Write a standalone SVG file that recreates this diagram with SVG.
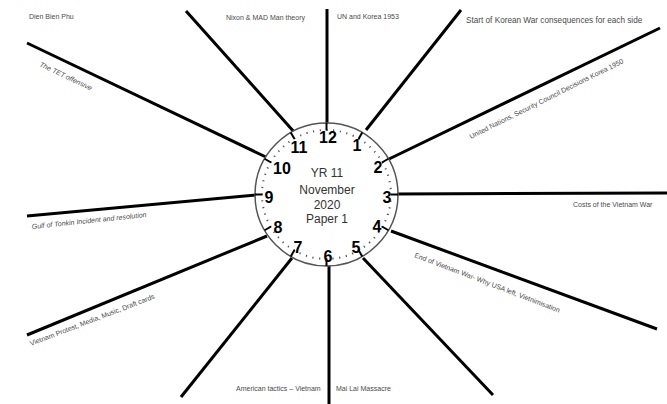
<svg xmlns="http://www.w3.org/2000/svg" xmlns:xlink="http://www.w3.org/1999/xlink" width="667" height="404" viewBox="0 0 667 404">
<style>
.spoke{stroke:#000;stroke-width:3;stroke-linecap:butt;fill:none}
.lbl{font-family:"Liberation Sans",Arial,sans-serif;font-size:7px;fill:#4a4a4a}
.it{font-style:italic}
.num{font-family:"Liberation Sans",Arial,sans-serif;font-size:16px;font-weight:bold;fill:#000;text-anchor:middle}
.ctr{font-family:"Liberation Sans",Arial,sans-serif;font-size:12px;fill:#333;text-anchor:middle}
</style>
<defs>
<line id="htick" x1="0" y1="-71.5" x2="0" y2="-64" stroke="#000" stroke-width="2"/>
</defs>
<rect width="667" height="404" fill="#fff"/>
<g id="connectors">
<line class="spoke" x1="327" y1="9" x2="327" y2="128"/>
<line class="spoke" x1="461" y1="10" x2="366" y2="130"/>
<line class="spoke" x1="660" y1="28" x2="389" y2="159"/>
<line class="spoke" x1="667" y1="193" x2="396" y2="194"/>
<line class="spoke" x1="657" y1="329" x2="391" y2="231"/>
<line class="spoke" x1="493" y1="395" x2="363" y2="258"/>
<line class="spoke" x1="329" y1="404" x2="329" y2="264"/>
<line class="spoke" x1="181" y1="397" x2="292" y2="258"/>
<line class="spoke" x1="27" y1="335" x2="267" y2="236"/>
<line class="spoke" x1="27" y1="216" x2="256" y2="195"/>
<line class="spoke" x1="27" y1="43" x2="268" y2="158"/>
<line class="spoke" x1="186" y1="11" x2="295" y2="133"/>
</g>
<g id="clock">
<circle cx="326.5" cy="194.5" r="71.5" fill="#fff" stroke="#555" stroke-width="1.5"/>
<circle cx="326.5" cy="194.5" r="64.5" fill="none" stroke="#555" stroke-width="2" stroke-dasharray="1.2 5.554" stroke-dashoffset="0.6"/>
<g transform="translate(326.5,194.5)">
<use xlink:href="#htick"/>
<use xlink:href="#htick" transform="rotate(30)"/>
<use xlink:href="#htick" transform="rotate(60)"/>
<use xlink:href="#htick" transform="rotate(90)"/>
<use xlink:href="#htick" transform="rotate(120)"/>
<use xlink:href="#htick" transform="rotate(150)"/>
<use xlink:href="#htick" transform="rotate(180)"/>
<use xlink:href="#htick" transform="rotate(210)"/>
<use xlink:href="#htick" transform="rotate(240)"/>
<use xlink:href="#htick" transform="rotate(270)"/>
<use xlink:href="#htick" transform="rotate(300)"/>
<use xlink:href="#htick" transform="rotate(330)"/>
</g>
<text class="num" x="328" y="143">12</text>
<text class="num" x="357" y="151">1</text>
<text class="num" x="378" y="173">2</text>
<text class="num" x="387" y="203">3</text>
<text class="num" x="377" y="232">4</text>
<text class="num" x="356" y="253">5</text>
<text class="num" x="328" y="262">6</text>
<text class="num" x="298" y="253">7</text>
<text class="num" x="278" y="233">8</text>
<text class="num" x="269" y="203">9</text>
<text class="num" x="282" y="174">10</text>
<text class="num" x="299" y="153">11</text>
<text class="ctr" x="327" y="177">YR 11</text>
<text class="ctr" x="327" y="194">November</text>
<text class="ctr" x="327" y="209">2020</text>
<text class="ctr" x="327" y="223">Paper 1</text>
</g>
<g id="label-12-left"><text class="lbl" x="29" y="19">Dien Bien Phu</text></g>
<g id="label-11"><text class="lbl" x="226" y="20">Nixon &amp; MAD Man theory</text></g>
<g id="label-12"><text class="lbl" x="337" y="19">UN and Korea 1953</text></g>
<g id="label-1"><text class="lbl" x="466" y="23" style="font-size:8.2px">Start of Korean War consequences for each side</text></g>
<g id="label-2"><text class="lbl" transform="translate(471,139) rotate(-26.5)">United Nations, Security Council Decisions Korea 1950</text></g>
<g id="label-3"><text class="lbl" x="573" y="207">Costs of the Vietnam War</text></g>
<g id="label-4"><text class="lbl" transform="translate(414,257) rotate(21)">End of Vietnam War- Why USA left, Vietnimisation</text></g>
<g id="label-6-left"><text class="lbl" x="236" y="391">American tactics – Vietnam</text></g>
<g id="label-6-right"><text class="lbl" x="336" y="391">Mai Lai Massacre</text></g>
<g id="label-8"><text class="lbl" transform="translate(31,346) rotate(-21)">Vietnam Protest, Media, Music, Draft cards</text></g>
<g id="label-9"><text class="lbl it" transform="translate(32,229) rotate(-6)">Gulf of Tonkin Incident and resolution</text></g>
<g id="label-10"><text class="lbl it" transform="translate(39,66) rotate(25.5)">The TET offensive</text></g>
</svg>
